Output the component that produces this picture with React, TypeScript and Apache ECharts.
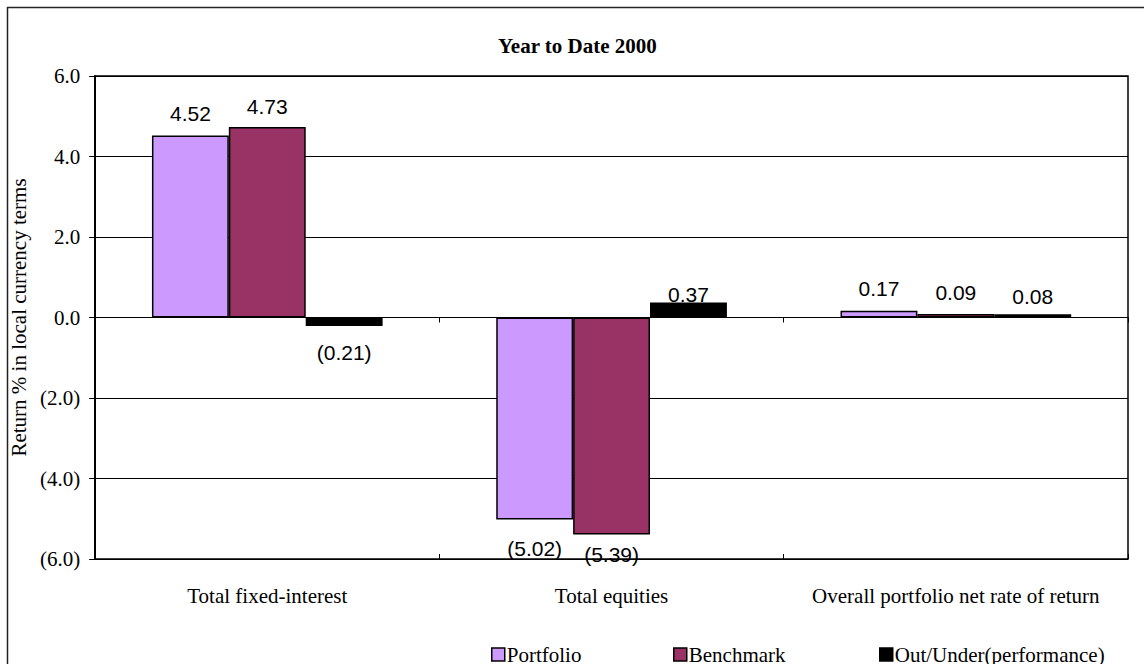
import React, { useEffect, useRef } from "react";
import * as echarts from "echarts";

// Year-to-date 2000 returns, % in local currency terms
const categories = [
  "Total fixed-interest",
  "Total equities",
  "Overall portfolio net rate of return",
];
const seriesNames = ["Portfolio", "Benchmark", "Out/Under(performance)"];
const portfolio = [4.52, -5.02, 0.17];
const benchmark = [4.73, -5.39, 0.09];
const outUnder = [-0.21, 0.37, 0.08];

const yMin = -6;
const yMax = 6;
const yStep = 2;

// Label spacing from the bar end, per series and category
const labelGap = [
  [12, 18, 12],
  [10, 10, 11],
  [16, -2, 7],
];
const barColors = ["#CC99FF", "#993366", "#000000"];

const SERIF = "'Liberation Serif', 'Times New Roman', serif";
const SANS = "'Liberation Sans', Arial, sans-serif";

const fmtTick = (v: number) =>
  v < 0 ? `(${Math.abs(v).toFixed(1)})` : v.toFixed(1);
const fmtValue = (v: number) =>
  v < 0 ? `(${Math.abs(v).toFixed(2)})` : v.toFixed(2);

export default function App() {
  const ref = useRef<HTMLDivElement>(null);

  useEffect(() => {
    if (!ref.current) return;
    const chart = echarts.init(ref.current, undefined, { renderer: "svg" });

    const allSeries = [portfolio, benchmark, outUnder];

    const series = allSeries.map((vals, si) => ({
      name: seriesNames[si],
      type: "bar",
      xAxisIndex: 0,
      barGap: "0%",
      barCategoryGap: "33%",
      itemStyle: {
        color: barColors[si],
        borderColor: "#000",
        borderWidth: 1.5,
      },
      label: {
        show: true,
        position: "outside",
        color: "#000",
        fontFamily: SANS,
        fontSize: 21,
        formatter: (p: any) => fmtValue(p.value),
      },
      data: vals.map((v, ci) => ({
        value: v,
        label: { distance: labelGap[si][ci] },
      })),
    }));

    const legendLefts = [491, 673, 879];

    chart.setOption({
      animation: false,
      title: {
        text: "Year to Date 2000",
        left: 498,
        top: 35,
        padding: 0,
        textStyle: {
          fontFamily: SERIF,
          fontWeight: "bold",
          fontSize: 21,
          color: "#000",
        },
      },
      graphic: [
        {
          type: "rect",
          shape: { x: 7.5, y: 7.5, width: 1160, height: 700 },
          style: { fill: "none", stroke: "#222", lineWidth: 1.5 },
          silent: true,
        },
      ],
      legend: seriesNames.map((name, i) => ({
        data: [name],
        left: legendLefts[i],
        top: 644,
        padding: 0,
        itemWidth: 13,
        itemHeight: 13,
        icon: "rect",
        selectedMode: false,
        itemStyle: { borderColor: "#000", borderWidth: 1.5 },
        textStyle: {
          fontFamily: SERIF,
          fontSize: 21,
          color: "#000",
          padding: [8, 0, 0, -3],
        },
      })),
      grid: {
        left: 92,
        right: 16,
        top: 76,
        bottom: 105,
        show: true,
        borderColor: "#000",
        borderWidth: 1.5,
        backgroundColor: "transparent",
      },
      xAxis: [
        {
          type: "category",
          data: categories,
          position: "bottom",
          axisLine: { onZero: true, lineStyle: { color: "#000", width: 1 } },
          axisTick: { show: true, length: 5, lineStyle: { color: "#000" } },
          axisLabel: { show: false },
          splitLine: { show: false },
        },
        {
          type: "category",
          data: categories,
          position: "bottom",
          axisLine: { show: false, onZero: true },
          axisTick: {
            show: true,
            inside: true,
            length: 5,
            lineStyle: { color: "#000" },
          },
          axisLabel: { show: false },
          splitLine: { show: false },
        },
        {
          type: "category",
          data: categories,
          position: "bottom",
          axisLine: { show: false, onZero: false },
          axisTick: { show: false },
          axisLabel: {
            show: true,
            margin: 26,
            color: "#000",
            fontFamily: SERIF,
            fontSize: 21,
            interval: 0,
          },
          splitLine: { show: false },
        },
      ],
      yAxis: {
        type: "value",
        min: yMin,
        max: yMax,
        interval: yStep,
        name: "Return % in local currency terms",
        nameLocation: "middle",
        nameGap: 59,
        nameTextStyle: { fontFamily: SERIF, fontSize: 21, color: "#000" },
        axisLine: { show: true, lineStyle: { color: "#000", width: 2 } },
        axisTick: { show: true, length: 6, lineStyle: { color: "#000" } },
        axisLabel: {
          margin: 15,
          color: "#000",
          fontFamily: SERIF,
          fontSize: 21,
          formatter: fmtTick,
        },
        splitLine: { show: true, lineStyle: { color: "#000", width: 1 } },
      },
      series,
    });

    return () => chart.dispose();
  }, []);

  return (
    <div
      ref={ref}
      style={{
        position: "absolute",
        left: 0,
        top: 0,
        width: 1144,
        height: 664,
        background: "#fff",
      }}
    />
  );
}
